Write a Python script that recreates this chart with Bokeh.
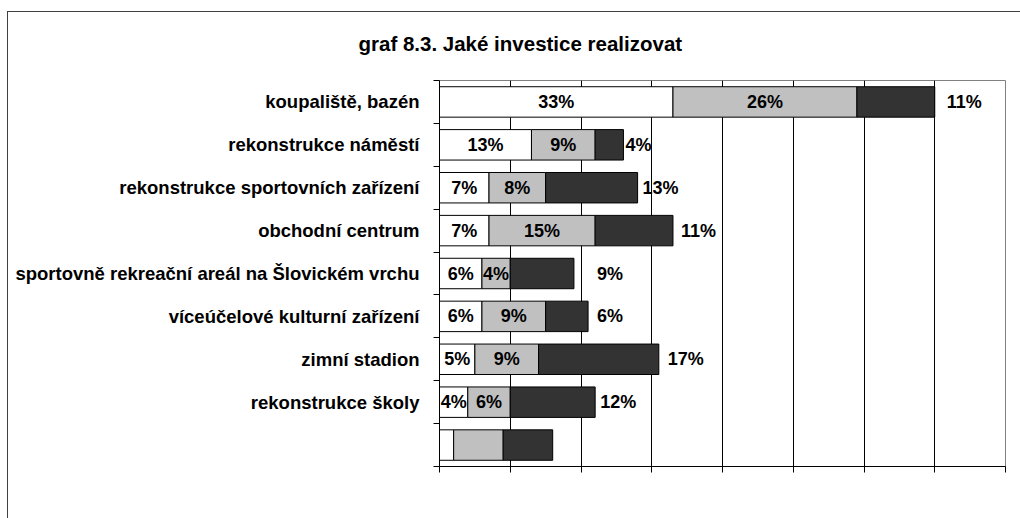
from bokeh.plotting import figure
from bokeh.models import Range1d, FixedTicker, ColumnDataSource
from bokeh.core.properties import value
from bokeh.embed import file_html
from bokeh.resources import INLINE

# ---- data ----
categories = [
    "koupaliště, bazén",
    "rekonstrukce náměstí",
    "rekonstrukce sportovních zařízení",
    "obchodní centrum",
    "sportovně rekreační areál na Šlovickém vrchu",
    "víceúčelové kulturní zařízení",
    "zimní stadion",
    "rekonstrukce školy",
    "",
]
white_vals = [33, 13, 7, 7, 6, 6, 5, 4, 2]
gray_vals = [26, 9, 8, 15, 4, 9, 9, 6, 7]
dark_vals = [11, 4, 13, 11, 9, 6, 17, 12, 7]
labelled_rows = 8  # the last (unnamed) row carries no labels
x_ticks = [0, 10, 20, 30, 40, 50, 60, 70, 80]
title_text = "graf 8.3. Jaké investice realizovat"

# ---- styling ----
FONT = "Liberation Sans"
dark_label_gap_px = [12, 2, 5, 8, 23, 9, 9, 5]
chart_border = ("linear-gradient(#404040, #404040) 0px 7px / 1px 100% no-repeat, "
                "linear-gradient(#404040, #404040) 0px 7px / 100% 1px no-repeat")

n = len(categories)
centers = [i + 0.5 for i in range(n)]
w_right = white_vals
g_left = white_vals
g_right = [w + g for w, g in zip(white_vals, gray_vals)]
d_left = g_right
d_right = [a + d for a, d in zip(g_right, dark_vals)]

p = figure(
    width=1013, height=514,
    x_range=Range1d(0, 80), y_range=Range1d(n, 0),
    output_backend="svg", toolbar_location=None,
    min_border_left=432, min_border_right=15,
    min_border_top=76, min_border_bottom=52,
)
p.margin = (4, 0, 0, 7)
p.styles = {"background": chart_border}

# title
p.title.text = title_text
p.title.align = "left"
p.title.vertical_align = "middle"
p.title.offset = -81
p.title.standoff = 50
p.title.text_font = FONT
p.title.text_font_size = "20.5px"
p.title.text_font_style = "bold"
p.title.text_color = "#000000"

p.outline_line_color = "#808080"
p.outline_line_width = 1
p.background_fill_color = "#ffffff"
p.border_fill_color = None

# bars
src = ColumnDataSource(dict(
    y=centers, w0=[0] * n, w1=w_right, g0=g_left, g1=g_right, d0=d_left, d1=d_right,
))
p.hbar(y="y", left="w0", right="w1", height=0.71, source=src,
       fill_color="#ffffff", line_color="#000000", line_width=1)
p.hbar(y="y", left="g0", right="g1", height=0.71, source=src,
       fill_color="#c0c0c0", line_color="#000000", line_width=1)
p.hbar(y="y", left="d0", right="d1", height=0.71, source=src,
       fill_color="#333333", line_color="#000000", line_width=1)

# labels
m = labelled_rows
lab_x = [w / 2 for w in white_vals[:m]] + [(a + b) / 2 for a, b in zip(g_left[:m], g_right[:m])]
lab_y = centers[:m] * 2
lab_t = [f"{v}%" for v in white_vals[:m]] + [f"{v}%" for v in gray_vals[:m]]
p.text(x=lab_x, y=lab_y, text=lab_t, text_align="center", text_baseline="middle",
       text_font=value(FONT), text_font_size="18px", text_font_style="bold",
       text_color="#000000")
p.text(x=d_right[:m], y=centers[:m], text=[f"{v}%" for v in dark_vals[:m]],
       x_offset=dark_label_gap_px, text_align="left", text_baseline="middle",
       text_font=value(FONT), text_font_size="18px", text_font_style="bold",
       text_color="#000000")

# x axis (no labels)
xa = p.xaxis[0]
xa.ticker = FixedTicker(ticks=x_ticks, minor_ticks=[])
xa.major_label_overrides = {t: "" for t in x_ticks}
xa.major_label_text_font_size = "1px"
xa.major_tick_out = 6
xa.major_tick_in = 0
xa.minor_tick_line_color = None
xa.axis_line_color = "#000000"
xa.major_tick_line_color = "#000000"

p.xgrid.ticker = FixedTicker(ticks=x_ticks[1:-1])
p.xgrid.grid_line_color = "#000000"
p.xgrid.grid_line_width = 1
p.ygrid.grid_line_color = None

# y axis: names at row centres, tick marks at row boundaries
ya = p.yaxis[0]
ya.ticker = FixedTicker(ticks=centers[:m], minor_ticks=list(range(n + 1)))
ya.major_label_overrides = {c: name for c, name in zip(centers[:m], categories[:m])}
ya.major_tick_line_color = None
ya.major_tick_out = 0
ya.major_tick_in = 0
ya.minor_tick_out = 6
ya.minor_tick_in = 0
ya.minor_tick_line_color = "#000000"
ya.axis_line_color = "#000000"
ya.major_label_standoff = 14
ya.major_label_text_font = FONT
ya.major_label_text_font_size = "18.5px"
ya.major_label_text_font_style = "bold"
ya.major_label_text_color = "#000000"

open("out.html", "w").write(file_html(p, INLINE))
